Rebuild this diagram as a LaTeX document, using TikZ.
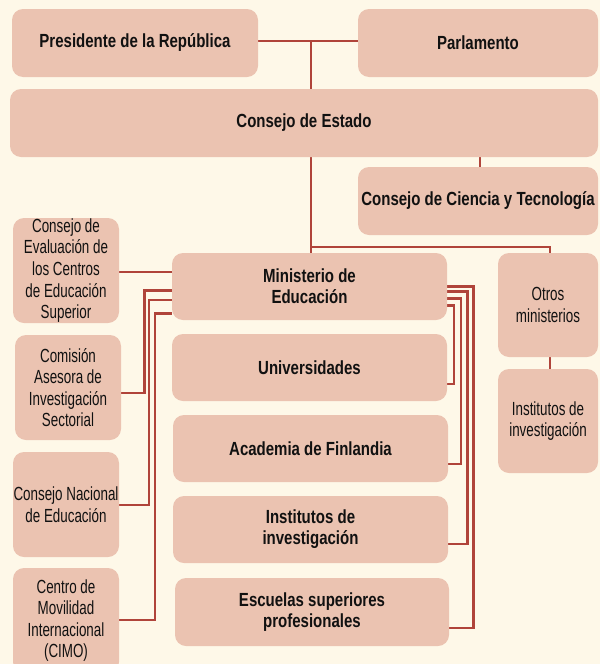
\documentclass[tikz,border=0pt]{standalone}
\usepackage{fontspec}
\setmainfont{Liberation Sans}[FakeStretch=0.705]
\newfontfamily\bfam{Liberation Sans}[FakeStretch=0.79]
\usetikzlibrary{calc}
\pgfdeclarelayer{bg}
\pgfdeclarelayer{wires}
\pgfsetlayers{bg,wires,main}
\definecolor{paper}{HTML}{FEF8E8}
\definecolor{boxfill}{HTML}{EBC3B1}
\definecolor{wirec}{HTML}{B0443A}
\definecolor{ink}{HTML}{111111}
\tikzset{
  box/.style={fill=boxfill, rounded corners=11pt, inner sep=0pt, align=center, text=ink,
    font=\fontsize{19}{21.6}\selectfont},
  bbox/.style={box, font=\bfam\bfseries\fontsize{19}{21}\selectfont},
  sz/.style 2 args={minimum width=#1pt, minimum height=#2pt},
  wire/.style={draw=wirec, line width=2.6pt},
}
\begin{document}
\begin{tikzpicture}[x=1pt,y=-1pt]
\begin{pgfonlayer}{bg}
\fill[paper] (0,0) rectangle (600,664);
\end{pgfonlayer}
\useasboundingbox (0,0) rectangle (600,664);

% top boxes
\node[bbox, sz={246}{68}] (pres) at (135,43) {Presidente de la República};
\node[bbox, sz={240}{68}] (parl) at (478,43) {Parlamento};
\node[bbox, sz={588}{68}] (estado) at (304,123) {Consejo de Estado};
\node[bbox, sz={240}{68}] (ciencia) at (478,201) {Consejo de Ciencia y Tecnología};

% centre column
\node[bbox, sz={275}{67}] (min) at (309.5,286.5) {Ministerio de\\Educación};
\node[bbox, sz={275}{67}] (univ) at (309.5,367.5) {Universidades};
\node[bbox, sz={275}{67}] (acad) at (310.5,448.5) {Academia de Finlandia};
\node[bbox, sz={275}{67}] (inst) at (310.5,529.5) {Institutos de\\investigación};
\node[bbox, sz={274}{68}] (escu) at (312,612) {Escuelas superiores\\profesionales};

% left column
\node[box, sz={106}{105}] (eval) at (66,270.5) {Consejo de\\Evaluación de\\los Centros\\de Educación\\Superior};
\node[box, sz={106}{105}] (comision) at (68,387.5) {Comisión\\Asesora de\\Investigación\\Sectorial};
\node[box, sz={106}{105}] (nacional) at (66,504.5) {Consejo Nacional\\de Educación};
\node[box, sz={106}{105}] (cimo) at (66,620.5) {Centro de\\Movilidad\\Internacional\\(CIMO)};

% right column
\node[box, sz={100}{104}] (otros) at (548,305) {Otros\\ministerios};
\node[box, sz={100}{104}] (iinv) at (548,421) {Institutos de\\investigación};

% connectors
\begin{pgfonlayer}{wires}
\coordinate (t1) at (311,41);
\draw[wire] (pres.east |- t1) -- (parl.west |- t1);
\draw[wire] (t1) -- (t1 |- estado.north);
\coordinate (c1) at (480,160);
\draw[wire] (estado.south -| c1) -- (ciencia.north -| c1);
\coordinate (j2) at (311,247);
\coordinate (j3) at (550,247);
\draw[wire] (estado.south -| j2) -- (min.north -| j2);
\draw[wire] (j2) -- (j3) -- (otros.north -| j3);
\draw[wire] (otros.south -| j3) -- (iinv.north -| j3);

% right brackets
\coordinate (r1) at (473.3,286.7); \coordinate (r1b) at (473.3,628);
\coordinate (r2) at (467.5,291.7); \coordinate (r2b) at (467.5,544);
\coordinate (r3) at (461,298.3);   \coordinate (r3b) at (461,464);
\coordinate (r4) at (454,305.7);   \coordinate (r4b) at (454,384);
\draw[wire] (min.east |- r1) -- (r1) -- (r1b) -- (escu.east |- r1b);
\draw[wire] (min.east |- r2) -- (r2) -- (r2b) -- (inst.east |- r2b);
\draw[wire] (min.east |- r3) -- (r3) -- (r3b) -- (acad.east |- r3b);
\draw[wire] (min.east |- r4) -- (r4) -- (r4b) -- (univ.east |- r4b);

% left brackets
\coordinate (l0) at (140,272);
\draw[wire] (eval.east |- l0) -- (min.west |- l0);
\coordinate (l1) at (144.3,290.7); \coordinate (l1b) at (144.3,393);
\coordinate (l2) at (149,300);     \coordinate (l2b) at (149,505);
\coordinate (l3) at (155,313.3);   \coordinate (l3b) at (155,620);
\draw[wire] (comision.east |- l1b) -- (l1b) -- (l1) -- (min.west |- l1);
\draw[wire] (nacional.east |- l2b) -- (l2b) -- (l2) -- (min.west |- l2);
\draw[wire] (cimo.east |- l3b) -- (l3b) -- (l3) -- (min.west |- l3);
\end{pgfonlayer}
\end{tikzpicture}
\end{document}
